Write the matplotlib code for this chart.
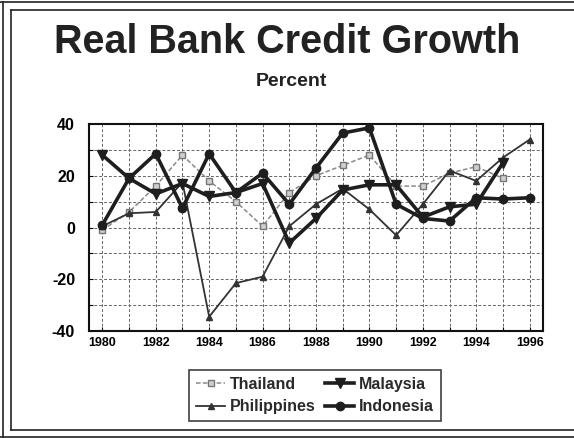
import matplotlib
matplotlib.use("Agg")
import matplotlib.pyplot as plt
from matplotlib.lines import Line2D
import numpy as np

plt.rcParams['font.family'] = ['Liberation Sans', 'DejaVu Sans']
plt.rcParams['axes.unicode_minus'] = False

years = list(range(1980, 1997))
thailand = [-1, 6, 16, 28, 18, 10, 0.5, 13.5, 20, 24, 28, 16, 16, 21, 23.5, 19, np.nan]
malaysia = [28, 19, 13, 17, 12, 13.5, 17, -6, 3.5, 14.5, 16.5, 16.5, 4, 8, 9, 25, np.nan]
philippines = [0.5, 5.5, 6, 17.5, -34.5, -21.5, -19, 0.5, 9, 15, 7, -3, 9, 22, 18, 27, 34]
indonesia = [1, 19, 28.5, 7.5, 28.5, 13.5, 21, 9, 23, 36.5, 38.5, 9, 3.5, 2.5, 11.5, 11, 11.5]

fig = plt.figure(figsize=(5.74, 4.38), dpi=100)
W, H = 574, 438
ax = fig.add_axes([89 / W, 1 - 331 / H, (543 - 89) / W, (331 - 124) / H])

# page border (scanned slide look)
for x0, y0, x1, y1 in [(11, 10, 574, 10), (11, 10, 11, 430), (11, 430, 574, 430),
                       (0, 2, 574, 2), (3, 2, 3, 437), (0, 437, 574, 437)]:
    fig.add_artist(Line2D([x0 / W, x1 / W], [1 - y0 / H, 1 - y1 / H],
                          color='#222222', lw=1.2, transform=fig.transFigure))

ax.plot(years, thailand, color='#8a8a8a', lw=1.1, ls=(0, (3, 1.5)), marker='s',
        ms=4, mfc='#d0d0d0', mec='#777777', label='Thailand', zorder=3)
ax.plot(years, philippines, color='#333333', lw=1.3, marker='^', ms=4.5,
        mfc='#333333', mec='#333333', label='Philippines', zorder=4)
ax.plot(years, malaysia, color='#1e1e1e', lw=2.6, marker='v', ms=6.5,
        mfc='#1e1e1e', label='Malaysia', zorder=5)
ax.plot(years, indonesia, color='#1e1e1e', lw=2.6, marker='o', ms=6,
        mfc='#1e1e1e', label='Indonesia', zorder=5)

ax.set_xlim(1979.5, 1996.5)
ax.set_ylim(-40, 40)
ax.set_xticks(range(1980, 1997, 2))
ax.set_xticks(range(1980, 1997), minor=True)
ax.set_yticks([-40, -20, 0, 20, 40])
ax.set_yticks(range(-40, 41, 10), minor=True)
ax.grid(which='both', color='#666666', ls=(0, (3, 2)), lw=0.7)
ax.tick_params(which='both', length=3, direction='in', width=0.8)
ax.tick_params(axis='y', labelsize=11.5, pad=10)
ax.tick_params(axis='x', labelsize=9, pad=4)
for lbl in ax.get_xticklabels() + ax.get_yticklabels():
    lbl.set_fontweight('bold')
for s in ax.spines.values():
    s.set_linewidth(1.5)
    s.set_color('#111111')

fig.text(0.5, 1 - 42 / H, 'Real Bank Credit Growth', ha='center', va='center',
         fontsize=28.5, fontweight='bold', color='#222222')
fig.text(0.508, 1 - 81 / H, 'Percent', ha='center', va='center',
         fontsize=14, fontweight='bold', color='#222222')

h, l = ax.get_legend_handles_labels()
leg = fig.legend(h, l, ncol=2,
                 loc='center', bbox_to_anchor=(315 / W, 1 - 395.5 / H),
                 fontsize=11.5, frameon=True, fancybox=False, edgecolor='#111111',
                 handlelength=1.8, handletextpad=0.3, columnspacing=0.6,
                 labelspacing=0.45, borderpad=0.45)
leg.get_frame().set_linewidth(1.2)
for t in leg.get_texts():
    t.set_fontweight('bold')
    t.set_color('#2a2a2a')

fig.savefig('out.png', dpi=100)
